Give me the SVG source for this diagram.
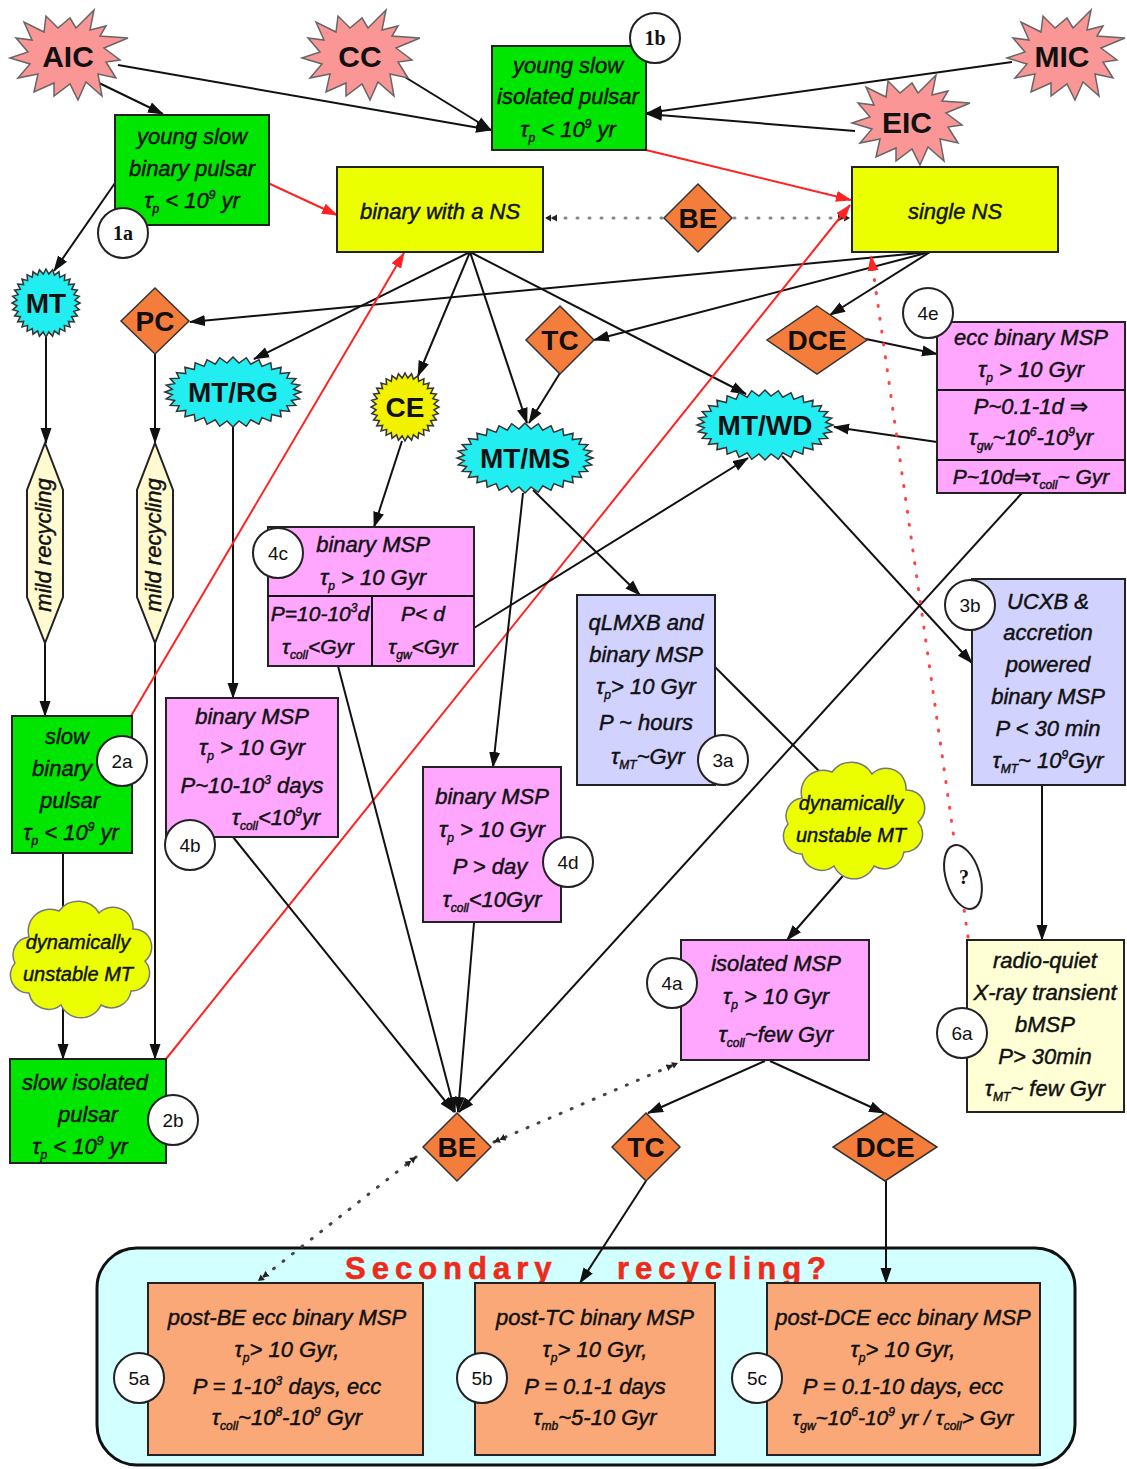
<svg xmlns="http://www.w3.org/2000/svg" xmlns:xlink="http://www.w3.org/1999/xlink" width="1127" height="1469" viewBox="0 0 1127 1469">
<style>
.t{font-family:"Liberation Sans","DejaVu Sans",sans-serif;font-style:italic;font-size:22px;fill:#111;stroke:#111;stroke-width:0.45;text-anchor:middle}
.t21{font-size:21px}
.cl{font-size:20px}
.s{font-size:12px}
.lb{font-family:"Liberation Sans","DejaVu Sans",sans-serif;font-weight:bold;font-size:28px;fill:#111;text-anchor:middle}
.lb30{font-size:30px}
.ct{font-family:"Liberation Sans","DejaVu Sans",sans-serif;font-size:19px;fill:#111;text-anchor:middle}
.cs{font-family:"Liberation Serif","DejaVu Serif",serif;font-weight:bold;font-size:20px;fill:#111;text-anchor:middle}
.box{stroke:#222;stroke-width:2}
.gr{fill:#00e600}
.ye{fill:#ebff00}
.pk{fill:#ffa6ff}
.lv{fill:#d2d2ff}
.cr{fill:#ffffd6}
.or{fill:#faa878}
.dm{fill:#f57d3c;stroke:#333;stroke-width:1.5}
.cy{fill:#22eef2;stroke:#333;stroke-width:1.5}
.cey{fill:#f2f200;stroke:#333;stroke-width:1.5}
.sm{fill:#fa9696;stroke:#666;stroke-width:1.5}
.cld{fill:#ebff00;stroke:#777;stroke-width:1.5}
.hx{fill:#fffad0;stroke:#222;stroke-width:2}
.c{fill:#fff;stroke:#222;stroke-width:2}
.ln{stroke:#111;stroke-width:2;fill:none}
.ar{marker-end:url(#a)}
.rd{stroke:#f22;stroke-width:2;fill:none;marker-end:url(#ar)}
.dt{stroke:#888;stroke-width:3;stroke-dasharray:1 11;stroke-linecap:round;fill:none;marker-end:url(#d)}
.dtb{stroke:#444;stroke-width:3;stroke-dasharray:1 11;stroke-linecap:round;fill:none;marker-start:url(#d);marker-end:url(#d)}
.rdt{stroke:#f44;stroke-width:3;stroke-dasharray:1 12;stroke-linecap:round;fill:none;marker-end:url(#ar)}
</style>
<defs>
<marker id="a" viewBox="0 0 16 12" refX="15" refY="6" markerWidth="16" markerHeight="12" markerUnits="userSpaceOnUse" orient="auto"><path d="M0,0.5 L16,6 L0,11.5 z" fill="#111"/></marker>
<marker id="ar" viewBox="0 0 16 12" refX="15" refY="6" markerWidth="16" markerHeight="12" markerUnits="userSpaceOnUse" orient="auto"><path d="M0,0.5 L16,6 L0,11.5 z" fill="#f22"/></marker>
<marker id="d" viewBox="0 0 12 8" refX="12" refY="4" markerWidth="12" markerHeight="8" markerUnits="userSpaceOnUse" orient="auto-start-reverse"><path d="M0,0.5 L6,4 L0,7.5 z M6,0.5 L12,4 L6,7.5 z" fill="#222"/></marker>
<polygon id="boom" points="60,-18 36,-8 52,4 38,6 48,22 30,18 34,40 18,26 10,44 2,28 -14,40 -14,27 -34,36 -30,18 -50,22 -38,8 -58,2 -40,-4 -52,-18 -36,-16 -44,-34 -24,-24 -22,-40 -10,-28 2,-38 8,-28 26,-46 22,-26 38,-30 32,-20"/>
<polygon id="cyE" points="68,0 60.7,2.8 66.7,6.8 58.4,8.4 62.8,13.4 53.8,13.7 56.5,19.4 47.2,18.4 48.1,24.7 38.7,22.4 37.8,29.1 28.8,25.6 26,32.3 17.7,27.8 13.3,34.3 6,28.9 0,35 -6,28.9 -13.3,34.3 -17.7,27.8 -26,32.3 -28.8,25.6 -37.8,29.1 -38.7,22.4 -48.1,24.7 -47.2,18.4 -56.5,19.4 -53.8,13.7 -62.8,13.4 -58.4,8.4 -66.7,6.8 -60.7,2.8 -68,0 -60.7,-2.8 -66.7,-6.8 -58.4,-8.4 -62.8,-13.4 -53.8,-13.7 -56.5,-19.4 -47.2,-18.4 -48.1,-24.7 -38.7,-22.4 -37.8,-29.1 -28.8,-25.6 -26,-32.3 -17.7,-27.8 -13.3,-34.3 -6,-28.9 0,-35 6,-28.9 13.3,-34.3 17.7,-27.8 26,-32.3 28.8,-25.6 37.8,-29.1 38.7,-22.4 48.1,-24.7 47.2,-18.4 56.5,-19.4 53.8,-13.7 62.8,-13.4 58.4,-8.4 66.7,-6.8 60.7,-2.8"/>
<polygon id="cyC" points="34,0 28.9,2.8 33.3,6.6 27.8,8.4 31.4,13 25.6,13.7 28.3,18.9 22.4,18.4 24,24 18.4,22.4 18.9,28.3 13.7,25.6 13,31.4 8.4,27.8 6.6,33.3 2.8,28.9 0,34 -2.8,28.9 -6.6,33.3 -8.4,27.8 -13,31.4 -13.7,25.6 -18.9,28.3 -18.4,22.4 -24,24 -22.4,18.4 -28.3,18.9 -25.6,13.7 -31.4,13 -27.8,8.4 -33.3,6.6 -28.9,2.8 -34,0 -28.9,-2.8 -33.3,-6.6 -27.8,-8.4 -31.4,-13 -25.6,-13.7 -28.3,-18.9 -22.4,-18.4 -24,-24 -18.4,-22.4 -18.9,-28.3 -13.7,-25.6 -13,-31.4 -8.4,-27.8 -6.6,-33.3 -2.8,-28.9 0,-34 2.8,-28.9 6.6,-33.3 8.4,-27.8 13,-31.4 13.7,-25.6 18.9,-28.3 18.4,-22.4 24,-24 22.4,-18.4 28.3,-18.9 25.6,-13.7 31.4,-13 27.8,-8.4 33.3,-6.6 28.9,-2.8"/>
<path id="cloud" d="M-50,-20 a22,22 0 0 1 30,-26 a24,24 0 0 1 40,2 a20,20 0 0 1 34,16 a18,18 0 0 1 12,32 a18,18 0 0 1 -14,30 a20,20 0 0 1 -30,14 a22,22 0 0 1 -40,0 a20,20 0 0 1 -32,-12 a18,18 0 0 1 -14,-30 a18,18 0 0 1 14,-26 z"/>
</defs>

<g id="container">
<rect x="97" y="1248" width="978" height="217" rx="40" fill="#d2ffff" stroke="#111" stroke-width="3"/>
<text font-family="'Liberation Sans','DejaVu Sans',sans-serif" font-weight="bold" font-size="31" fill="#ee2a1a" stroke="#ee2a1a" stroke-width="0.6" letter-spacing="6" y="1279"><tspan x="345">Secondary</tspan><tspan x="617">recycling?</tspan></text>
</g>

<g id="connectors">
<line class="ln ar" x1="97" y1="82" x2="163" y2="114"/>
<line class="ln ar" x1="118" y1="65" x2="491" y2="130"/>
<line class="ln ar" x1="400" y1="74" x2="491" y2="130"/>
<line class="ln ar" x1="1012" y1="62" x2="647" y2="113"/>
<line class="ln ar" x1="855" y1="131" x2="647" y2="114"/>
<line class="rd" x1="268" y1="183" x2="337" y2="215"/>
<line class="rd" x1="646" y1="150" x2="851" y2="200"/>
<line class="ln ar" x1="115" y1="183" x2="54" y2="271"/>
<line class="dt" x1="662" y1="218" x2="545" y2="218"/>
<line class="dt" x1="734" y1="218" x2="850" y2="218"/>
<line class="ln ar" x1="930" y1="252" x2="190" y2="322"/>
<line class="ln ar" x1="470" y1="252" x2="254" y2="359"/>
<line class="ln ar" x1="470" y1="252" x2="418" y2="376"/>
<line class="ln ar" x1="470" y1="252" x2="527" y2="423"/>
<line class="ln ar" x1="470" y1="252" x2="746" y2="394"/>
<line class="ln ar" x1="930" y1="252" x2="594" y2="340"/>
<line class="ln ar" x1="930" y1="252" x2="830" y2="315"/>
<line class="ln ar" x1="560" y1="373" x2="529" y2="423"/>
<line class="ln ar" x1="402" y1="441" x2="374" y2="527"/>
<line class="ln ar" x1="46" y1="337" x2="46" y2="443"/>
<line class="ln ar" x1="45" y1="643" x2="45" y2="716"/>
<line class="ln ar" x1="155" y1="354" x2="155" y2="443"/>
<line class="ln ar" x1="155" y1="643" x2="155" y2="1059"/>
<line class="ln ar" x1="233" y1="426" x2="233" y2="698"/>
<line class="ln" x1="63" y1="853" x2="63" y2="910"/>
<line class="ln ar" x1="63" y1="1003" x2="63" y2="1059"/>
<line class="rd" x1="131" y1="716" x2="404" y2="253"/>
<line class="rd" x1="166" y1="1059" x2="850" y2="205"/>
<line class="ln ar" x1="533" y1="490" x2="640" y2="595"/>
<line class="ln ar" x1="523" y1="493" x2="493" y2="767"/>
<line class="ln ar" x1="474" y1="628" x2="748" y2="458"/>
<line class="ln ar" x1="937" y1="442" x2="834" y2="427"/>
<line class="ln ar" x1="866" y1="339" x2="937" y2="354"/>
<line class="ln ar" x1="782" y1="456" x2="972" y2="663"/>
<line class="ln ar" x1="715" y1="667" x2="832" y2="784"/>
<line class="ln ar" x1="1022" y1="493" x2="459" y2="1112"/>
<line class="ln ar" x1="848" y1="870" x2="787" y2="940"/>
<line class="ln ar" x1="1042" y1="785" x2="1042" y2="940"/>
<line class="rdt" x1="968" y1="937" x2="871" y2="256"/>
<line class="ln ar" x1="338" y1="666" x2="455" y2="1112"/>
<line class="ln ar" x1="233" y1="837" x2="454" y2="1112"/>
<line class="ln ar" x1="474" y1="923" x2="458" y2="1112"/>
<line class="ln ar" x1="765" y1="1061" x2="648" y2="1113"/>
<line class="ln ar" x1="770" y1="1061" x2="884" y2="1113"/>
<line class="dtb" x1="494" y1="1142" x2="678" y2="1063"/>
<line class="dtb" x1="416" y1="1157" x2="258" y2="1281"/>
<line class="ln ar" x1="646" y1="1181" x2="580" y2="1283"/>
<line class="ln ar" x1="886" y1="1181" x2="886" y2="1283"/>
</g>

<g id="AIC"><use xlink:href="#boom" x="68" y="56" class="sm"/><text class="lb lb30" x="68" y="67">AIC</text></g>
<g id="CC"><use xlink:href="#boom" x="360" y="56" class="sm"/><text class="lb lb30" x="360" y="67">CC</text></g>
<g id="MIC"><use xlink:href="#boom" x="1065" y="56" class="sm"/><text class="lb lb30" x="1062" y="67">MIC</text></g>
<g id="EIC"><use xlink:href="#boom" x="910" y="121" class="sm"/><text class="lb lb30" x="907" y="133">EIC</text></g>

<g id="n1b">
<rect class="box gr" x="492" y="46" width="154" height="104"/>
<text class="t" x="568" y="73">young slow</text>
<text class="t" x="568" y="104">isolated pulsar</text>
<text class="t" x="568" y="137">τ<tspan class="s" dy="5">p</tspan><tspan dy="-5"> &lt; 10</tspan><tspan class="s" dy="-9">9</tspan><tspan dy="9"> yr</tspan></text>
<circle class="c" cx="655" cy="38" r="25"/><text class="cs" x="655" y="45">1b</text>
</g>
<g id="n1a">
<rect class="box gr" x="115" y="115" width="154" height="110"/>
<text class="t" x="192" y="144">young slow</text>
<text class="t" x="192" y="176">binary pulsar</text>
<text class="t" x="192" y="208">τ<tspan class="s" dy="5">p</tspan><tspan dy="-5"> &lt; 10</tspan><tspan class="s" dy="-9">9</tspan><tspan dy="9"> yr</tspan></text>
<circle class="c" cx="123" cy="233" r="25"/><text class="cs" x="123" y="240">1a</text>
</g>
<g id="binNS">
<rect class="box ye" x="337" y="167" width="206" height="85"/>
<text class="t" x="440" y="219">binary with a NS</text>
</g>
<g id="singleNS">
<rect class="box ye" x="852" y="167" width="206" height="85"/>
<text class="t" x="955" y="219">single NS</text>
</g>
<g id="BEtop"><polygon class="dm" points="698,184 732,218 698,252 664,218"/><text class="lb" x="698" y="228">BE</text></g>
<g id="MT"><use xlink:href="#cyC" x="46" y="303" class="cy"/><text class="lb" x="46" y="313">MT</text></g>
<g id="PC"><polygon class="dm" points="155,288 189,321 155,354 121,321"/><text class="lb" x="155" y="331">PC</text></g>
<g id="MTRG"><use xlink:href="#cyE" x="233" y="392" class="cy"/><text class="lb" x="233" y="402">MT/RG</text></g>
<g id="CE"><use xlink:href="#cyC" x="405" y="407" class="cey"/><text class="lb" x="405" y="417">CE</text></g>
<g id="TCtop"><polygon class="dm" points="560,306 594,340 560,374 526,340"/><text class="lb" x="560" y="350">TC</text></g>
<g id="MTMS"><use xlink:href="#cyE" x="525" y="458" class="cy"/><text class="lb" x="525" y="468">MT/MS</text></g>
<g id="DCEtop"><polygon class="dm" points="817,306 867,340 817,374 767,340"/><text class="lb" x="817" y="350">DCE</text></g>
<g id="MTWD"><use xlink:href="#cyE" x="765" y="425" class="cy"/><text class="lb" x="765" y="435">MT/WD</text></g>

<g id="n4e">
<rect class="box pk" x="937" y="322" width="188" height="171"/>
<line class="ln" x1="937" y1="390" x2="1125" y2="390"/>
<line class="ln" x1="937" y1="460" x2="1125" y2="460"/>
<text class="t" x="1031" y="345">ecc binary MSP</text>
<text class="t" x="1031" y="377">τ<tspan class="s" dy="5">p</tspan><tspan dy="-5"> &gt; 10 Gyr</tspan></text>
<text class="t" x="1031" y="414">P~0.1-1d ⇒</text>
<text class="t" x="1031" y="445">τ<tspan class="s" dy="5">gw</tspan><tspan dy="-5">~10</tspan><tspan class="s" dy="-9">6</tspan><tspan dy="9">-10</tspan><tspan class="s" dy="-9">9</tspan><tspan dy="9">yr</tspan></text>
<text class="t t21" x="1031" y="484">P~10d⇒τ<tspan class="s" dy="5">coll</tspan><tspan dy="-5">~ Gyr</tspan></text>
<circle class="c" cx="928" cy="313" r="25"/><text class="ct" x="928" y="320">4e</text>
</g>

<g id="hex1"><polygon class="hx" points="45,443 63,490 63,597 45,643 27,597 27,490"/><text class="t" font-size="18" transform="translate(45,545) rotate(-90)" y="6">mild recycling</text></g>
<g id="hex2"><polygon class="hx" points="155,443 173,490 173,597 155,643 137,597 137,490"/><text class="t" font-size="18" transform="translate(155,545) rotate(-90)" y="6">mild recycling</text></g>

<g id="n4c">
<rect class="box pk" x="268" y="527" width="206" height="139"/>
<line class="ln" x1="268" y1="596" x2="474" y2="596"/>
<line class="ln" x1="372" y1="596" x2="372" y2="666"/>
<text class="t" x="373" y="552">binary MSP</text>
<text class="t" x="373" y="585">τ<tspan class="s" dy="5">p</tspan><tspan dy="-5"> &gt; 10 Gyr</tspan></text>
<text class="t t21" x="320" y="621">P=10-10<tspan class="s" dy="-9">3</tspan><tspan dy="9">d</tspan></text>
<text class="t t21" x="318" y="654">τ<tspan class="s" dy="5">coll</tspan><tspan dy="-5">&lt;Gyr</tspan></text>
<text class="t t21" x="423" y="621">P&lt; d</text>
<text class="t t21" x="423" y="654">τ<tspan class="s" dy="5">gw</tspan><tspan dy="-5">&lt;Gyr</tspan></text>
<circle class="c" cx="278" cy="553" r="25"/><text class="ct" x="278" y="560">4c</text>
</g>

<g id="n4b">
<rect class="box pk" x="166" y="698" width="172" height="139"/>
<text class="t" x="252" y="724">binary MSP</text>
<text class="t" x="252" y="755">τ<tspan class="s" dy="5">p</tspan><tspan dy="-5"> &gt; 10 Gyr</tspan></text>
<text class="t" x="252" y="793">P~10-10<tspan class="s" dy="-9">3</tspan><tspan dy="9"> days</tspan></text>
<text class="t" x="276" y="825">τ<tspan class="s" dy="5">coll</tspan><tspan dy="-5">&lt;10</tspan><tspan class="s" dy="-9">9</tspan><tspan dy="9">yr</tspan></text>
<circle class="c" cx="190" cy="845" r="25"/><text class="ct" x="190" y="852">4b</text>
</g>

<g id="n2a">
<rect class="box gr" x="12" y="716" width="120" height="137"/>
<text class="t" x="67" y="744">slow</text>
<text class="t" x="62" y="776">binary</text>
<text class="t" x="70" y="808">pulsar</text>
<text class="t" x="71" y="840">τ<tspan class="s" dy="5">p</tspan><tspan dy="-5"> &lt; 10</tspan><tspan class="s" dy="-9">9</tspan><tspan dy="9"> yr</tspan></text>
<circle class="c" cx="122" cy="761" r="25"/><text class="ct" x="122" y="768">2a</text>
</g>

<g id="cloudL"><use xlink:href="#cloud" x="79" y="957" class="cld"/>
<text class="t cl" x="78" y="949">dynamically</text>
<text class="t cl" x="78" y="981">unstable MT</text></g>

<g id="n2b">
<rect class="box gr" x="10" y="1059" width="156" height="104"/>
<text class="t" x="85" y="1090">slow isolated</text>
<text class="t" x="88" y="1122">pulsar</text>
<text class="t" x="80" y="1154">τ<tspan class="s" dy="5">p</tspan><tspan dy="-5"> &lt; 10</tspan><tspan class="s" dy="-9">9</tspan><tspan dy="9"> yr</tspan></text>
<circle class="c" cx="173" cy="1120" r="25"/><text class="ct" x="173" y="1127">2b</text>
</g>

<g id="n3a">
<rect class="box lv" x="577" y="595" width="138" height="190"/>
<text class="t" x="646" y="630">qLMXB and</text>
<text class="t" x="646" y="662">binary MSP</text>
<text class="t" x="646" y="694">τ<tspan class="s" dy="5">p</tspan><tspan dy="-5">&gt; 10 Gyr</tspan></text>
<text class="t" x="646" y="730">P ~ hours</text>
<text class="t" x="648" y="764">τ<tspan class="s" dy="5">MT</tspan><tspan dy="-5">~Gyr</tspan></text>
<circle class="c" cx="723" cy="760" r="25"/><text class="ct" x="723" y="767">3a</text>
</g>

<g id="n4d">
<rect class="box pk" x="423" y="767" width="138" height="155"/>
<text class="t" x="492" y="804">binary MSP</text>
<text class="t" x="492" y="837">τ<tspan class="s" dy="5">p</tspan><tspan dy="-5"> &gt; 10 Gyr</tspan></text>
<text class="t" x="490" y="874">P &gt; day</text>
<text class="t" x="492" y="907">τ<tspan class="s" dy="5">coll</tspan><tspan dy="-5">&lt;10Gyr</tspan></text>
<circle class="c" cx="568" cy="862" r="25"/><text class="ct" x="568" y="869">4d</text>
</g>

<g id="n3b">
<rect class="box lv" x="972" y="579" width="153" height="206"/>
<text class="t" x="1048" y="609">UCXB &amp;</text>
<text class="t" x="1048" y="640">accretion</text>
<text class="t" x="1048" y="672">powered</text>
<text class="t" x="1048" y="704">binary MSP</text>
<text class="t" x="1048" y="736">P &lt; 30 min</text>
<text class="t" x="1048" y="768">τ<tspan class="s" dy="5">MT</tspan><tspan dy="-5">~ 10</tspan><tspan class="s" dy="-9">9</tspan><tspan dy="9">Gyr</tspan></text>
<circle class="c" cx="970" cy="605" r="25"/><text class="ct" x="970" y="612">3b</text>
</g>

<g id="cloudR"><use xlink:href="#cloud" x="852" y="818" class="cld"/>
<text class="t cl" x="851" y="810">dynamically</text>
<text class="t cl" x="851" y="842">unstable MT</text></g>

<g id="q"><ellipse cx="963" cy="877" rx="17" ry="33" transform="rotate(-17 963 877)" class="c"/><text class="cs" font-weight="normal" x="964" y="884">?</text></g>

<g id="n6a">
<rect class="box cr" x="967" y="940" width="157" height="172"/>
<text class="t" x="1045" y="968">radio-quiet</text>
<text class="t" x="1045" y="1000">X-ray transient</text>
<text class="t" x="1045" y="1032">bMSP</text>
<text class="t" x="1045" y="1064">P&gt; 30min</text>
<text class="t" x="1045" y="1096">τ<tspan class="s" dy="5">MT</tspan><tspan dy="-5">~ few Gyr</tspan></text>
<circle class="c" cx="962" cy="1033" r="25"/><text class="ct" x="962" y="1040">6a</text>
</g>

<g id="n4a">
<rect class="box pk" x="681" y="940" width="188" height="120"/>
<text class="t" x="776" y="971">isolated MSP</text>
<text class="t" x="776" y="1004">τ<tspan class="s" dy="5">p</tspan><tspan dy="-5"> &gt; 10 Gyr</tspan></text>
<text class="t" x="776" y="1042">τ<tspan class="s" dy="5">coll</tspan><tspan dy="-5">~few Gyr</tspan></text>
<circle class="c" cx="672" cy="983" r="25"/><text class="ct" x="672" y="990">4a</text>
</g>

<g id="BEbot"><polygon class="dm" points="457,1113 491,1147 457,1181 423,1147"/><text class="lb" x="457" y="1157">BE</text></g>
<g id="TCbot"><polygon class="dm" points="646,1113 680,1147 646,1181 612,1147"/><text class="lb" x="646" y="1157">TC</text></g>
<g id="DCEbot"><polygon class="dm" points="885,1113 937,1147 885,1181 833,1147"/><text class="lb" x="885" y="1157">DCE</text></g>

<g id="n5a">
<rect class="box or" x="148" y="1283" width="275" height="172"/>
<text class="t" x="287" y="1325">post-BE ecc binary MSP</text>
<text class="t" x="287" y="1357">τ<tspan class="s" dy="5">p</tspan><tspan dy="-5">&gt; 10 Gyr,</tspan></text>
<text class="t" x="287" y="1394">P = 1-10<tspan class="s" dy="-9">3</tspan><tspan dy="9"> days, ecc</tspan></text>
<text class="t" x="287" y="1425">τ<tspan class="s" dy="5">coll</tspan><tspan dy="-5">~10</tspan><tspan class="s" dy="-9">8</tspan><tspan dy="9">-10</tspan><tspan class="s" dy="-9">9</tspan><tspan dy="9"> Gyr</tspan></text>
<circle class="c" cx="139" cy="1378" r="25"/><text class="ct" x="139" y="1385">5a</text>
</g>
<g id="n5b">
<rect class="box or" x="475" y="1283" width="240" height="172"/>
<text class="t" x="595" y="1325">post-TC binary MSP</text>
<text class="t" x="595" y="1357">τ<tspan class="s" dy="5">p</tspan><tspan dy="-5">&gt; 10 Gyr,</tspan></text>
<text class="t" x="595" y="1394">P = 0.1-1 days</text>
<text class="t" x="595" y="1425">τ<tspan class="s" dy="5">mb</tspan><tspan dy="-5">~5-10 Gyr</tspan></text>
<circle class="c" cx="482" cy="1378" r="25"/><text class="ct" x="482" y="1385">5b</text>
</g>
<g id="n5c">
<rect class="box or" x="767" y="1283" width="273" height="172"/>
<text class="t" x="903" y="1325">post-DCE ecc binary MSP</text>
<text class="t" x="903" y="1357">τ<tspan class="s" dy="5">p</tspan><tspan dy="-5">&gt; 10 Gyr,</tspan></text>
<text class="t" x="903" y="1394">P = 0.1-10 days, ecc</text>
<text class="t t21" x="903" y="1425">τ<tspan class="s" dy="5">gw</tspan><tspan dy="-5">~10</tspan><tspan class="s" dy="-9">6</tspan><tspan dy="9">-10</tspan><tspan class="s" dy="-9">9</tspan><tspan dy="9"> yr / τ</tspan><tspan class="s" dy="5">coll</tspan><tspan dy="-5">&gt; Gyr</tspan></text>
<circle class="c" cx="757" cy="1378" r="25"/><text class="ct" x="757" y="1385">5c</text>
</g>
</svg>
